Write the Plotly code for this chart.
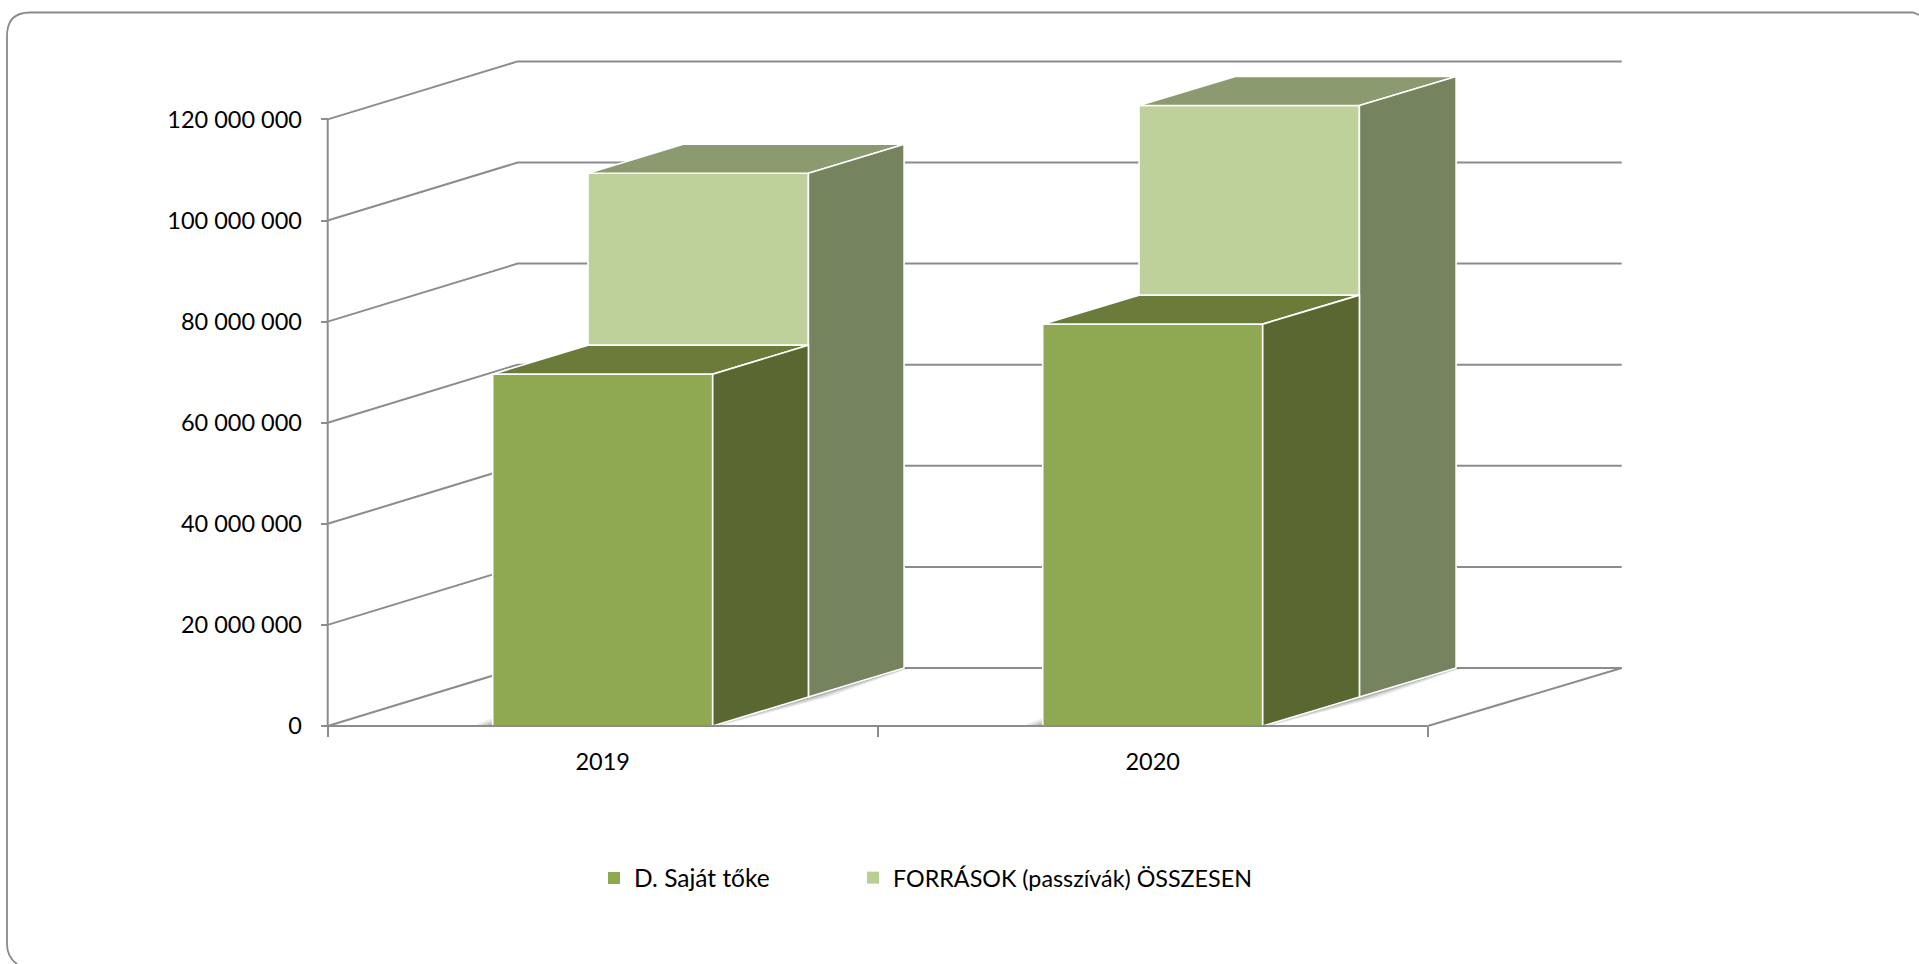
import plotly.graph_objects as go

# ---- data ----
years = ["2019", "2020"]
series_names = ["D. Saját tőke", "FORRÁSOK (passzívák) ÖSSZESEN"]
saját_toke = [69_600_000, 79_500_000]
források = [103_600_000, 117_000_000]
y_ticks = [0, 20_000_000, 40_000_000, 60_000_000, 80_000_000, 100_000_000, 120_000_000]
y_labels = ["0", "20 000 000", "40 000 000", "60 000 000", "80 000 000", "100 000 000", "120 000 000"]

# ---- page / projection ----
W, H = 1919, 964
X0_PX, Y0_PX = 327.7, 726.0      # origin of the front plane on the page
PX_PER_CAT = 550.0
VAL_PER_PX = 20_000_000 / 101.1
DEPTH_X = 190.0 / PX_PER_CAT     # oblique projection of the chart depth
DEPTH_SPREAD = 2.0 / PX_PER_CAT  # the back wall is very slightly wider than the front
DEPTH_Y = 58.0 * VAL_PER_PX
BAR_W = 0.4
GRID = "#8c8c8c"
FONT = "Lato"
FS = 23.5
INK = "#000000"

def proj(x, v, z):
    return x + z * (DEPTH_X + x * DEPTH_SPREAD), v + z * DEPTH_Y

def poly(pts, fill, line="white", width=1.6):
    xs, ys = zip(*pts)
    return go.Scatter(x=list(xs) + [xs[0]], y=list(ys) + [ys[0]], mode="lines", fill="toself",
                      fillcolor=fill, line=dict(color=line, width=width),
                      hoverinfo="skip", showlegend=False)

fig = go.Figure()

# ---- walls and floor ----
gx, gy = [], []
ymax = y_ticks[-1]
for t in y_ticks:
    a, b, c = proj(0, t, 0), proj(0, t, 1), proj(len(years), t, 1)
    gx += [a[0], b[0], c[0], None]
    gy += [a[1], b[1], c[1], None]
for a, b in [((0, 0, 0), (0, ymax, 0)),
             ((len(years), 0, 0), (len(years), 0, 1))]:
    p, q = proj(*a), proj(*b)
    gx += [p[0], q[0], None]
    gy += [p[1], q[1], None]
fig.add_trace(go.Scatter(x=gx, y=gy, mode="lines", line=dict(color=GRID, width=2),
                         hoverinfo="skip", showlegend=False))

# ---- bars, painted back to front ----
faces = [
    dict(vals=források, z0=0.5, z1=1.0, front="#bfd19a", top="#8c9a70", side="#75835f"),
    dict(vals=saját_toke, z0=0.0, z1=0.5, front="#8ea952", top="#6b7c3a", side="#586830"),
]
for i, _ in enumerate(years):
    l, r = i + 0.5 - BAR_W / 2, i + 0.5 + BAR_W / 2
    # soft shadow on the floor
    for reach, alpha in [(20, 0.10), (14, 0.15), (8, 0.22)]:
        a, m, b = proj(r, 0, 0), proj(r, 0, 0.5), proj(r, 0, 1)
        dx = reach / PX_PER_CAT
        fig.add_trace(poly([a, b, (b[0] + dx * 0.3, b[1]), (m[0] + dx, m[1]), (a[0] + dx * 0.3, a[1])],
                           f"rgba(60,60,60,{alpha})", "rgba(0,0,0,0)", 0))
        fig.add_trace(poly([(l - reach / PX_PER_CAT, 0), (l, 0), (l, reach * 0.4 * VAL_PER_PX)],
                           f"rgba(60,60,60,{alpha})", "rgba(0,0,0,0)", 0))
    for f in faces:
        v, z0, z1 = f["vals"][i], f["z0"], f["z1"]
        fig.add_trace(poly([proj(l, 0, z0), proj(r, 0, z0), proj(r, v, z0), proj(l, v, z0)], f["front"]))
        fig.add_trace(poly([proj(l, v, z0), proj(r, v, z0), proj(r, v, z1), proj(l, v, z1)], f["top"]))
        fig.add_trace(poly([proj(r, 0, z0), proj(r, 0, z1), proj(r, v, z1), proj(r, v, z0)], f["side"]))

# ---- front edge of the floor lies over the bar feet ----
fig.add_trace(go.Scatter(x=[0, len(years)], y=[0, 0], mode="lines", line=dict(color=GRID, width=2),
                         hoverinfo="skip", showlegend=False))

# ---- legend entries ----
for name, col, lg in zip(series_names, ["#8ea84d", "#b9cf96"], ["legend", "legend2"]):
    fig.add_trace(go.Scatter(x=[None], y=[None], mode="markers", name=name, legend=lg,
                             marker=dict(symbol="square", size=12, color=col), hoverinfo="skip"))

legend_common = dict(orientation="h", xanchor="left", y=1 - 878 / H, yanchor="middle",
                     itemclick=False, itemdoubleclick=False, bgcolor="rgba(0,0,0,0)")

fig.update_layout(
    width=W, height=H, margin=dict(l=0, r=0, t=0, b=0),
    paper_bgcolor="white", plot_bgcolor="rgba(0,0,0,0)",
    font=dict(family=FONT, size=FS, color=INK),
    xaxis=dict(domain=[0, 1], range=[-X0_PX / PX_PER_CAT, (W - X0_PX) / PX_PER_CAT],
               anchor="free", position=1 - Y0_PX / H,
               showgrid=False, zeroline=False, showline=False,
               tickmode="array", tickvals=[0.5, 1.5], ticktext=years, ticks="",
               ticklabelstandoff=19,
               minor=dict(tickmode="array", tickvals=[0, 1, 2], ticks="outside", ticklen=10,
                          tickcolor=GRID, tickwidth=1.5, showgrid=False)),
    yaxis=dict(domain=[0, 1], range=[-(H - Y0_PX) * VAL_PER_PX, Y0_PX * VAL_PER_PX],
               anchor="free", position=X0_PX / W,
               showgrid=False, zeroline=False, showline=False,
               tickmode="array", tickvals=y_ticks, ticktext=y_labels,
               ticks="outside", ticklen=7, tickcolor=GRID, tickwidth=1.8,
               ticklabelstandoff=14),
    legend=dict(x=594 / W, font=dict(family=FONT, size=24.5, color=INK), **legend_common),
    legend2=dict(x=853 / W, font=dict(family=FONT, size=23.3, color=INK), **legend_common),
    shapes=[dict(type="path", xref="paper", yref="paper", layer="below",
                 path=(f"M {1919/W} {1-15/H} L {1913/W} {1-12.5/H} "
                       f"L {30/W} {1-12.5/H} Q {7/W} {1-12.5/H} {7/W} {1-36/H} "
                       f"L {7/W} {1-944/H} Q {7/W} {1-957/H} {17/W} {1-964/H}"),
                 line=dict(color="#8a8a8a", width=1.8))],
)

fig.write_html("out.html", config=dict(displayModeBar=False),
               post_script="document.body.style.margin='0';document.body.style.overflow='hidden';")
